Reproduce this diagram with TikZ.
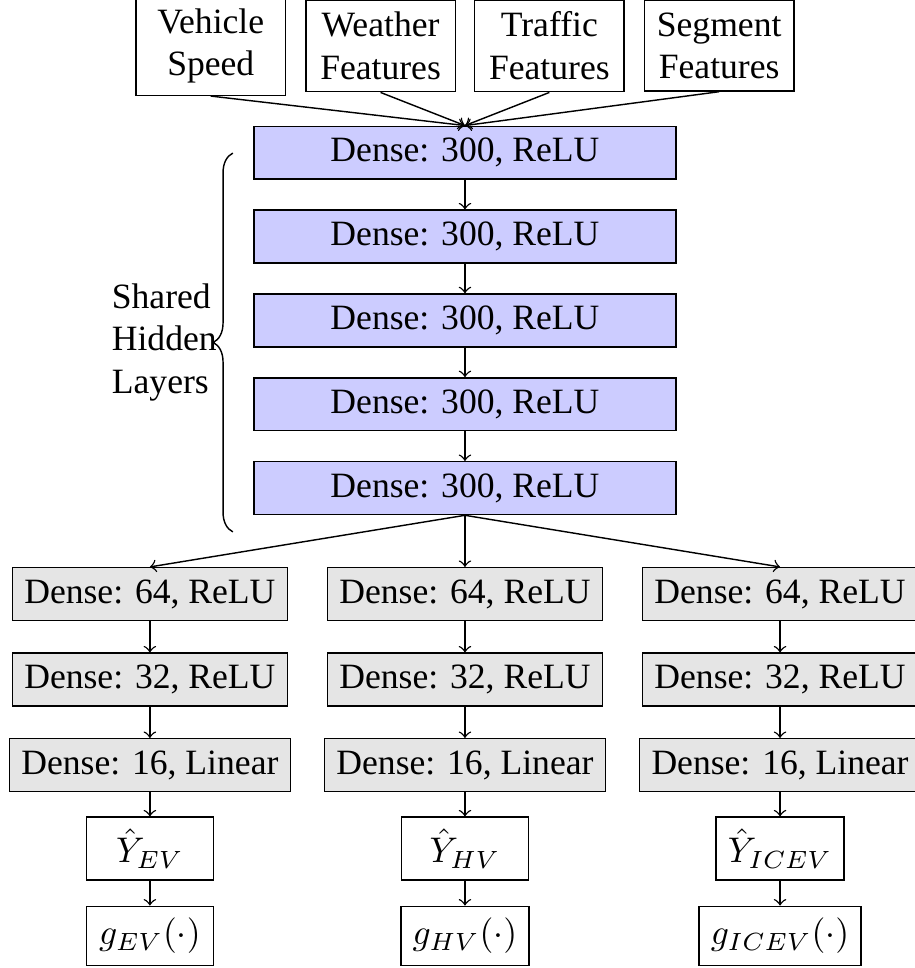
\documentclass[tikz,border=0pt]{standalone}
\usepackage{fontspec}
\setmainfont{Liberation Serif}
\usetikzlibrary{positioning,decorations.pathreplacing}

\begin{document}
\begin{tikzpicture}[
        node distance=8.8pt,
        font=\normalsize,
        inbox/.style={rectangle, draw, align=center, minimum width=42pt},
        layer/.style={rectangle, draw, fill=#1},
        shared/.style={layer=blue!20, minimum width=118.5pt},
        head/.style={layer=gray!20},
        outbox/.style={rectangle, draw, minimum width=35.7pt}
    ]
        \useasboundingbox (0,0) rectangle (257pt,-271.9pt);

        % shared hidden layers
        \node[shared] (h1) at (130.6pt,-42.9pt) {Dense: 300, ReLU};
        \node[shared, below=8.3pt of h1] (h2) {Dense: 300, ReLU};
        \node[shared, below=8.3pt of h2] (h3) {Dense: 300, ReLU};
        \node[shared, below=8.3pt of h3] (h4) {Dense: 300, ReLU};
        \node[shared, below=8.3pt of h4] (h5) {Dense: 300, ReLU};

        % inputs
        \node[inbox, above=9.3pt of h1, xshift=-23.7pt] (weather) {Weather\\Features};
        \node[inbox, above=9.3pt of h1, xshift=23.7pt] (traffic) {Traffic\\Features};
        \node[inbox, left=5.3pt of weather] (speed) {Vehicle\\Speed};
        \node[inbox, right=5.3pt of traffic] (segment) {Segment\\Features};

        % task heads
        \node[head, below=14.5pt of h5, xshift=-88.5pt] (ev1) {Dense: 64, ReLU};
        \node[head, below=of ev1] (ev2) {Dense: 32, ReLU};
        \node[head, below=of ev2] (ev3) {Dense: 16, Linear};
        \node[outbox, below=6.8pt of ev3] (evy) {$\hat{Y}_{EV}$};
        \node[outbox, below=7pt of evy] (evg) {$g_{EV}(\cdot)$};

        \node[head, below=14.5pt of h5] (hv1) {Dense: 64, ReLU};
        \node[head, below=of hv1] (hv2) {Dense: 32, ReLU};
        \node[head, below=of hv2] (hv3) {Dense: 16, Linear};
        \node[outbox, below=6.8pt of hv3] (hvy) {$\hat{Y}_{HV}$};
        \node[outbox, below=7pt of hvy] (hvg) {$g_{HV}(\cdot)$};

        \node[head, below=14.5pt of h5, xshift=88.5pt] (ic1) {Dense: 64, ReLU};
        \node[head, below=of ic1] (ic2) {Dense: 32, ReLU};
        \node[head, below=of ic2] (ic3) {Dense: 16, Linear};
        \node[outbox, below=6.8pt of ic3] (icy) {$\hat{Y}_{ICEV}$};
        \node[outbox, below=7pt of icy] (icg) {$g_{ICEV}(\cdot)$};

        \draw[->] (speed.south) -- (h1.north);
        \draw[->] (weather.south) -- (h1.north);
        \draw[->] (traffic.south) -- (h1.north);
        \draw[->] (segment.south) -- (h1.north);

        \draw[->] (h1) -- (h2);
        \draw[->] (h2) -- (h3);
        \draw[->] (h3) -- (h4);
        \draw[->] (h4) -- (h5);

        \draw[->] (h5.south) -- (ev1.north);
        \draw[->] (h5.south) -- (hv1.north);
        \draw[->] (h5.south) -- (ic1.north);

        \draw[->] (ev1) -- (ev2);
        \draw[->] (ev2) -- (ev3);
        \draw[->] (ev3) -- (evy);
        \draw[->] (evy) -- (evg);
        \draw[->] (hv1) -- (hv2);
        \draw[->] (hv2) -- (hv3);
        \draw[->] (hv3) -- (hvy);
        \draw[->] (hvy) -- (hvg);
        \draw[->] (ic1) -- (ic2);
        \draw[->] (ic2) -- (ic3);
        \draw[->] (ic3) -- (icy);
        \draw[->] (icy) -- (icg);

        % brace
        \coordinate (bracetop) at (65.4pt,-43pt);
        \coordinate (bracebot) at (65.4pt,-149.4pt);
        \draw[decorate, decoration={brace, amplitude=5.5pt}] (bracebot) -- (bracetop)
            node[midway, left=1pt, align=left] (sharedlbl) {Shared\\Hidden\\Layers};
    \end{tikzpicture}
\end{document}
